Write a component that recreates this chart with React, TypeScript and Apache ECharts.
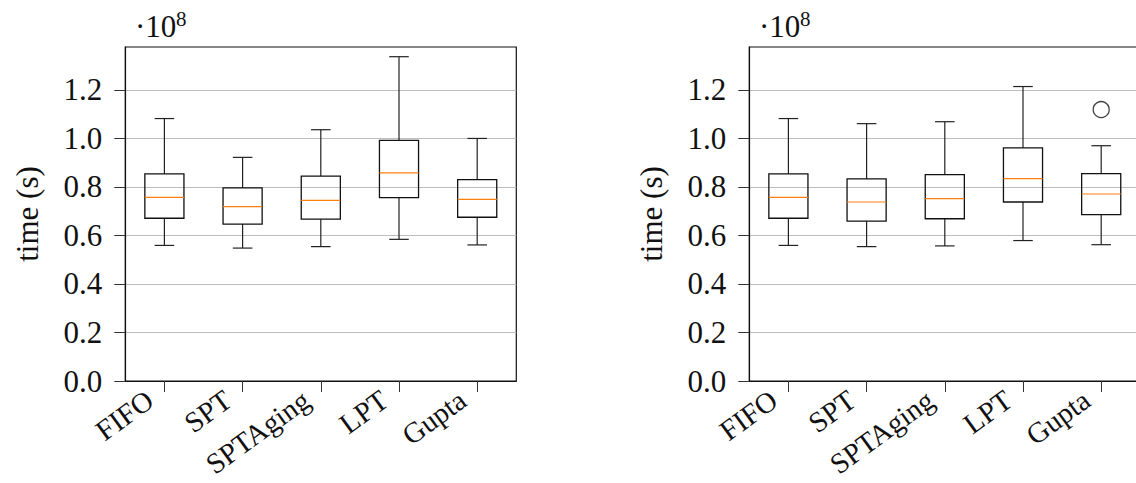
import React, { useEffect, useRef } from "react";
import * as echarts from "echarts";

const categories = ["FIFO", "SPT", "SPTAging", "LPT", "Gupta"];

// Left panel (values in units of 1e8 s)
const lowerA = [0.559, 0.548, 0.554, 0.584, 0.561];
const q1A = [0.671, 0.647, 0.667, 0.756, 0.675];
const medianA = [0.757, 0.719, 0.745, 0.858, 0.749];
const q3A = [0.854, 0.796, 0.845, 0.992, 0.830];
const upperA = [1.082, 0.922, 1.036, 1.337, 1.0];

// Right panel
const lowerB = [0.559, 0.554, 0.557, 0.579, 0.562];
const q1B = [0.671, 0.659, 0.669, 0.738, 0.686];
const medianB = [0.757, 0.738, 0.752, 0.834, 0.771];
const q3B = [0.854, 0.833, 0.851, 0.961, 0.855];
const upperB = [1.082, 1.061, 1.069, 1.214, 0.970];
const outlierCatB = ["Gupta"];
const outlierValB = [1.119];

const yTicks = [0, 0.2, 0.4, 0.6, 0.8, 1.0, 1.2];
const yMax = 1.377;
const FONT = "Liberation Serif";

function boxData(lo: number[], q1: number[], med: number[], q3: number[], hi: number[]) {
  return categories.map((_, i) => [i, lo[i], q1[i], med[i], q3[i], hi[i]]);
}

function renderBox(params: any, api: any) {
  const x = api.value(0);
  const lo = api.coord([x, api.value(1)]);
  const q1 = api.coord([x, api.value(2)]);
  const med = api.coord([x, api.value(3)]);
  const q3 = api.coord([x, api.value(4)]);
  const hi = api.coord([x, api.value(5)]);
  const bw = api.size([1, 0])[0] * 0.5;
  const cw = bw * 0.5;
  const cx = lo[0];
  const st = { stroke: "#222", lineWidth: 1.2, fill: "none" };
  return {
    type: "group",
    children: [
      { type: "line", shape: { x1: cx, y1: q1[1], x2: cx, y2: lo[1] }, style: st },
      { type: "line", shape: { x1: cx, y1: q3[1], x2: cx, y2: hi[1] }, style: st },
      { type: "line", shape: { x1: cx - cw / 2, y1: lo[1], x2: cx + cw / 2, y2: lo[1] }, style: st },
      { type: "line", shape: { x1: cx - cw / 2, y1: hi[1], x2: cx + cw / 2, y2: hi[1] }, style: st },
      { type: "rect", shape: { x: cx - bw / 2, y: q3[1], width: bw, height: q1[1] - q3[1] }, style: { stroke: "#111", lineWidth: 1.3, fill: "none" } },
      { type: "line", shape: { x1: cx - bw / 2, y1: med[1], x2: cx + bw / 2, y2: med[1] }, style: { stroke: "#ff7f0e", lineWidth: 1.2 } },
    ],
  };
}

function xAxisCfg(gridIndex: number) {
  return {
    type: "category",
    gridIndex,
    data: categories,
    boundaryGap: true,
    axisLine: { show: true, lineStyle: { color: "#111", width: 1.2 } },
    axisTick: { show: true, alignWithLabel: true, length: 11, lineStyle: { color: "#333", width: 1 } },
    axisLabel: {
      interval: 0,
      rotate: 36,
      margin: 5,
      color: "#111",
      fontFamily: FONT,
      fontSize: 29,
      padding: [0, 18, 0, 0],
    },
    splitLine: { show: false },
  };
}

function yAxisCfg(gridIndex: number) {
  return {
    type: "value",
    gridIndex,
    min: 0,
    max: yMax,
    interval: 0.2,
    name: "time (s)",
    nameLocation: "middle",
    nameRotate: 90,
    nameGap: 82,
    nameTextStyle: { fontFamily: FONT, fontSize: 31, color: "#111" },
    axisLine: { show: true, lineStyle: { color: "#111", width: 1.2 } },
    axisTick: { show: true, length: 11, customValues: yTicks, lineStyle: { color: "#333", width: 1 } },
    axisLabel: {
      customValues: yTicks,
      margin: 23,
      color: "#111",
      fontFamily: FONT,
      fontSize: 31,
      formatter: (v: number) => v.toFixed(1),
    },
    splitLine: { show: true, lineStyle: { color: "#bdbdbd", width: 1 } },
  };
}

export default function App() {
  const ref = useRef<HTMLDivElement>(null);
  useEffect(() => {
    if (!ref.current) return;
    const chart = echarts.init(ref.current, undefined, { renderer: "svg" });
    const gridCommon = { top: 47, height: 334, width: 391, show: true, borderColor: "#111", borderWidth: 1.2, backgroundColor: "transparent", containLabel: false, outerBoundsMode: "none" };
    chart.setOption({
      animation: false,
      backgroundColor: "#fff",
      grid: [
        { ...gridCommon, left: 125.3 },
        { ...gridCommon, left: 749.3 },
      ],
      xAxis: [xAxisCfg(0), xAxisCfg(1)],
      yAxis: [yAxisCfg(0), yAxisCfg(1)],
      graphic: [
        { type: "text", x: 135, y: 11, style: { text: "·10", font: `31px '${FONT}'`, fill: "#111" } },
        { type: "text", x: 176, y: 8, style: { text: "8", font: `21px '${FONT}'`, fill: "#111" } },
        { type: "text", x: 759, y: 11, style: { text: "·10", font: `31px '${FONT}'`, fill: "#111" } },
        { type: "text", x: 800, y: 8, style: { text: "8", font: `21px '${FONT}'`, fill: "#111" } },
      ],
      series: [
        {
          type: "custom",
          xAxisIndex: 0,
          yAxisIndex: 0,
          renderItem: renderBox,
          encode: { x: 0, y: [1, 2, 3, 4, 5] },
          data: boxData(lowerA, q1A, medianA, q3A, upperA),
        },
        {
          type: "custom",
          xAxisIndex: 1,
          yAxisIndex: 1,
          renderItem: renderBox,
          encode: { x: 0, y: [1, 2, 3, 4, 5] },
          data: boxData(lowerB, q1B, medianB, q3B, upperB),
        },
        {
          type: "scatter",
          xAxisIndex: 1,
          yAxisIndex: 1,
          symbol: "circle",
          symbolSize: 16,
          itemStyle: { color: "none", borderColor: "#111", borderWidth: 1.3 },
          data: outlierCatB.map((c, i) => [c, outlierValB[i]]),
        },
      ],
    });
    return () => chart.dispose();
  }, []);
  return <div ref={ref} style={{ position: "fixed", left: 0, top: 0, width: 1136, height: 483 }} />;
}
